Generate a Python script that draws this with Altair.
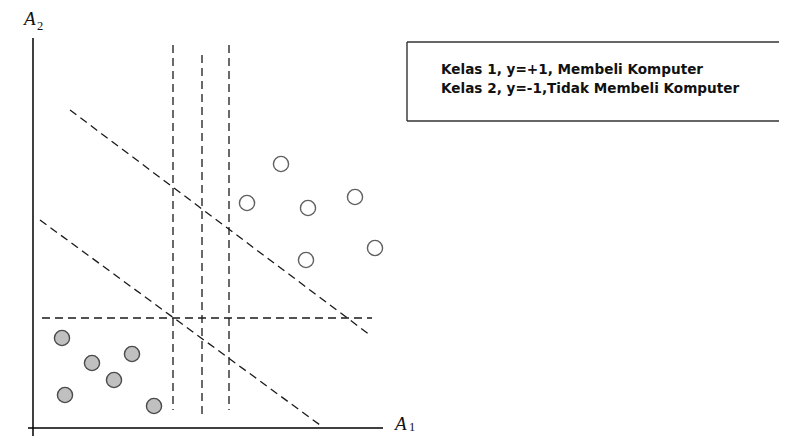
import altair as alt
import pandas as pd

# Class 1 (y=+1) open circles, class 2 (y=-1) filled circles, in (A1, A2) units
class1_a1 = [24.6, 21.2, 27.3, 32.0, 34.0, 27.1]
class1_a2 = [26.4, 22.5, 22.0, 23.1, 18.0, 16.8]
class2_a1 = [2.7, 5.7, 9.7, 7.9, 3.0, 11.9]
class2_a2 = [9.0, 6.5, 7.4, 4.8, 3.3, 2.2]

# Dashed separating lines (x, y, x2, y2)
dashed_x = [13.8, 16.7, 19.4, 0.7, 3.5, 0.5]
dashed_y = [38.3, 37.3, 38.3, 11.0, 31.8, 20.8]
dashed_x2 = [13.8, 16.7, 19.4, 33.7, 33.5, 28.5]
dashed_y2 = [1.8, 1.0, 1.8, 11.0, 9.3, 0.3]

# Axes lines
axis_x = [-0.2, -0.7]
axis_y = [39.0, 0.0]
axis_x2 = [-0.2, 34.8]
axis_y2 = [-0.8, 0.0]

# Legend box edges (left, top, bottom; right edge is off the page)
box_x = [37.2, 37.2, 37.2]
box_y = [38.6, 38.6, 30.7]
box_x2 = [37.2, 74.4, 74.4]
box_y2 = [30.7, 38.6, 30.7]

legend_lines = ["Kelas 1, y=+1, Membeli Komputer", "Kelas 2, y=-1,Tidak Membeli Komputer"]

W, H = 771, 428
xs = alt.Scale(domain=[-2.7, 74.4], nice=False, zero=False)
ys = alt.Scale(domain=[-0.8, 42.0], nice=False, zero=False)

def X(f):
    return alt.X(f, type="quantitative", scale=xs, axis=None)

def Y(f):
    return alt.Y(f, type="quantitative", scale=ys, axis=None)

dashed = pd.DataFrame({"x": dashed_x, "y": dashed_y, "x2": dashed_x2, "y2": dashed_y2})
axes = pd.DataFrame({"x": axis_x, "y": axis_y, "x2": axis_x2, "y2": axis_y2})
boxe = pd.DataFrame({"x": box_x, "y": box_y, "x2": box_x2, "y2": box_y2})

dash_layer = alt.Chart(dashed).mark_rule(
    color="#1a1a1a", strokeWidth=1.3, strokeDash=[8, 5]
).encode(x=X("x"), y=Y("y"), x2="x2", y2="y2")

axis_layer = alt.Chart(axes).mark_rule(color="#000000", strokeWidth=1.5).encode(
    x=X("x"), y=Y("y"), x2="x2", y2="y2"
)

box_layer = alt.Chart(boxe).mark_rule(color="#333333", strokeWidth=1.4).encode(
    x=X("x"), y=Y("y"), x2="x2", y2="y2"
)

c1 = pd.DataFrame({"a1": class1_a1, "a2": class1_a2})
c2 = pd.DataFrame({"a1": class2_a1, "a2": class2_a2})

open_pts = alt.Chart(c1).mark_point(
    shape="circle", filled=False, size=230, stroke="#606060", strokeWidth=1.4, fill="white", fillOpacity=1
).encode(x=X("a1"), y=Y("a2"))

filled_pts = alt.Chart(c2).mark_point(
    shape="circle", filled=True, size=230, fill="#c0c0c0", fillOpacity=1, stroke="#4a4a4a", strokeWidth=1.4, opacity=1
).encode(x=X("a1"), y=Y("a2"))

leg = pd.DataFrame({"x": [40.6, 40.6], "y": [35.8, 33.9], "t": legend_lines})
leg_layer = alt.Chart(leg).mark_text(
    align="left", baseline="middle", font="DejaVu Sans", fontWeight="bold", fontSize=13.6,
    color="#111111"
).encode(x=X("x"), y=Y("y"), text="t:N")

labA = pd.DataFrame({"x": [-1.1, 36.0], "y": [40.9, 0.4], "t": ["A", "A"]})
labA_layer = alt.Chart(labA).mark_text(
    align="left", baseline="middle", font="Liberation Serif", fontStyle="italic", fontSize=19, color="#111111"
).encode(x=X("x"), y=Y("y"), text="t:N")

labN = pd.DataFrame({"x": [0.2, 37.4], "y": [40.2, 0.1], "t": ["2", "1"]})
labN_layer = alt.Chart(labN).mark_text(
    align="left", baseline="middle", font="Liberation Serif", fontSize=12.5, color="#111111"
).encode(x=X("x"), y=Y("y"), text="t:N")

chart = alt.layer(
    axis_layer, dash_layer, open_pts, filled_pts, box_layer, leg_layer, labA_layer, labN_layer
).properties(
    width=W, height=H, autosize=alt.AutoSizeParams(type="none"), padding=0, background="white"
).configure_view(stroke=None)

chart.save("out.html", embed_options={"renderer": "svg", "actions": False})
